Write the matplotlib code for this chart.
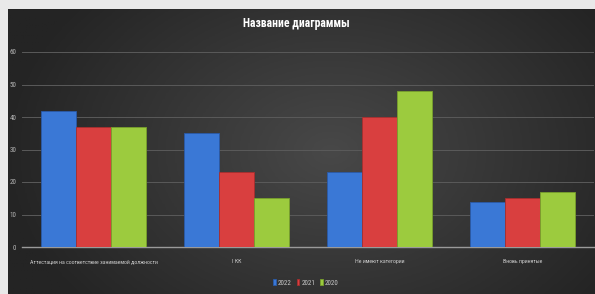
import numpy as np
import matplotlib
matplotlib.use('Agg')
import matplotlib.pyplot as plt
from matplotlib import font_manager

categories = ['Аттестация на соответствие занимаемой должности', 'I КК',
              'Не имеют категории', 'Вновь принятые']
series_names = ['2022', '2021', '2020']
v2022 = [42, 35, 23, 14]
v2021 = [37, 23, 40, 15]
v2020 = [37, 15, 48, 17]
colors = ['#3a78d6', '#d93f3f', '#9ccb3e']
edges = ['#2a5aa8', '#a82e2e', '#78a02c']
yticks = [0, 10, 20, 30, 40, 50, 60]

# pick a narrow face if one is installed
names = {f.name for f in font_manager.fontManager.ttflist}
narrow = 'DejaVu Sans'
for cand in ['Liberation Sans Narrow', 'DejaVu Sans Condensed', 'Roboto Condensed',
             'Open Sans Condensed', 'Noto Sans Condensed']:
    if cand in names:
        narrow = cand
        break
plt.rcParams['font.family'] = [narrow, 'DejaVu Sans']

fig = plt.figure(figsize=(5.95, 2.94), dpi=100)
fig.patch.set_facecolor('#e9e9e9')

# dark radial background panel
bg = fig.add_axes([8/595, 0, 587/595, 1 - 9/294])
yy, xx = np.mgrid[0:1:200j, 0:1:400j]
r = np.sqrt(((xx - 0.55) / 0.75) ** 2 + ((yy - 0.5) / 1.1) ** 2)
bg.imshow(r, cmap=matplotlib.colors.LinearSegmentedColormap.from_list(
    'bg', ['#484848', '#363636', '#242424']), vmin=0, vmax=0.75,
    aspect='auto', extent=[0, 1, 0, 1])
bg.set_axis_off()

ax = fig.add_axes([22/595, 1 - 247/294, 572/595, 195/294])
ax.patch.set_alpha(0)
x = np.arange(len(categories))
w = 0.245
for i, (vals, name) in enumerate(zip([v2022, v2021, v2020], series_names)):
    ax.bar(x + (i - 1) * w, vals, w, color=colors[i], edgecolor=edges[i],
           linewidth=0.6, label=name, zorder=3)

ax.set_xlim(-0.5, len(categories) - 0.5)
ax.set_ylim(0, 60)
ax.set_yticks(yticks)
ax.set_yticklabels([str(t) for t in yticks], fontsize=5, color='#b4b4b4')
ax.yaxis.grid(True, color='#5a5a5a', linewidth=0.7, zorder=0)
ax.set_xticks(x)
ax.set_xticklabels(categories, fontsize=5, color='#c8c8c8')
ax.tick_params(axis='y', length=0, pad=4)
ax.tick_params(axis='x', length=0, pad=8.5)
for s in ['top', 'right', 'left']:
    ax.spines[s].set_visible(False)
ax.spines['bottom'].set_color('#9a9a9a')
ax.spines['bottom'].set_linewidth(1)

title = fig.text(296/595, 1 - 24/294, 'Название диаграммы', ha='center',
                 va='center', fontsize=9, color='white', fontweight='bold')

leg = fig.legend(loc='center', bbox_to_anchor=(306/595, 1 - 283/294), ncol=3,
                 frameon=False, fontsize=5, handlelength=0.4, handleheight=0.8,
                 columnspacing=0.7, handletextpad=0.3)
for t in leg.get_texts():
    t.set_color('#c8c8c8')

# shrink text so it spans about the width seen in the source
fig.canvas.draw()
rend = fig.canvas.get_renderer()
first = ax.get_xticklabels()[0]
k = 132 / first.get_window_extent(rend).width
for t in ax.get_xticklabels():
    t.set_fontsize(min(5.5, 5 * k))
k = 107 / title.get_window_extent(rend).width
title.set_fontsize(min(10, 9 * k))

fig.savefig('out.png', dpi=100, facecolor=fig.get_facecolor())
